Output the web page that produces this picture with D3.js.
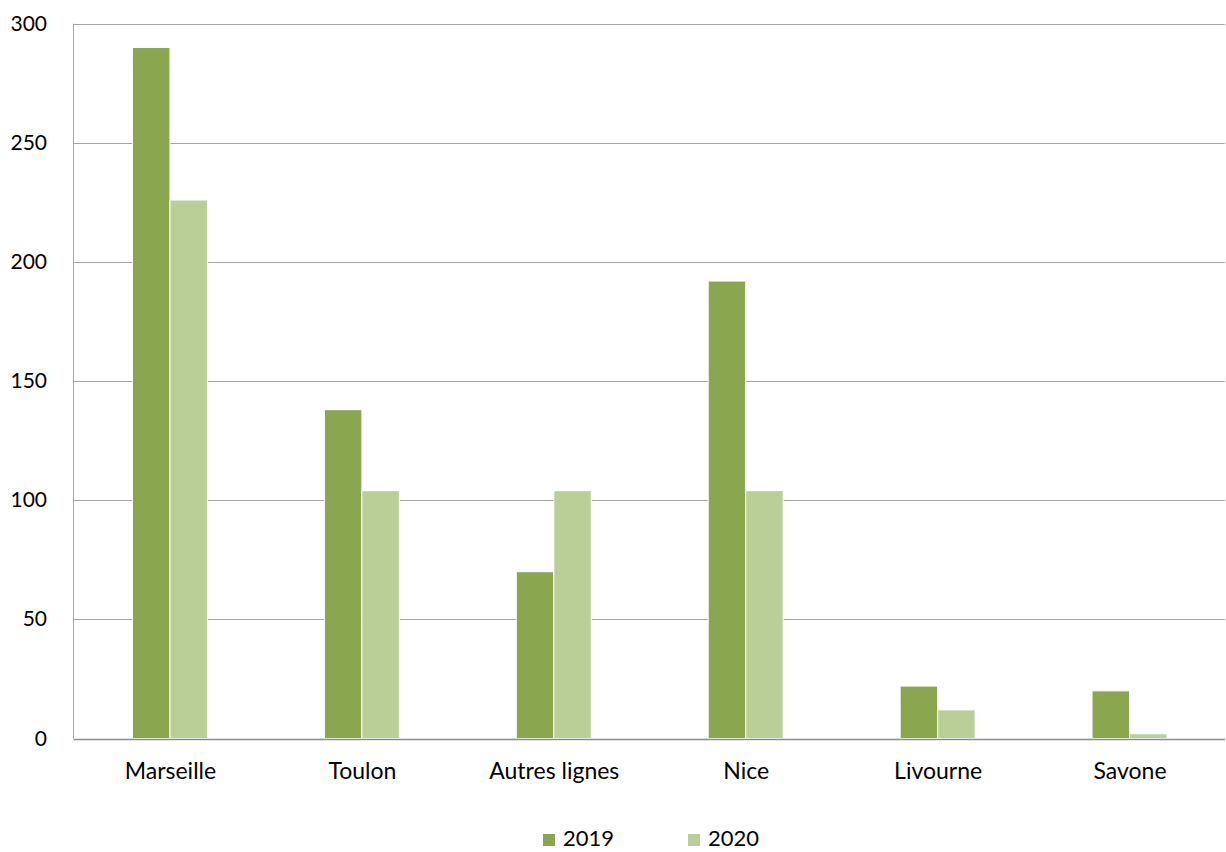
<!DOCTYPE html>
<html><head><meta charset="utf-8">
<script src="https://cdn.jsdelivr.net/npm/d3@7"></script>
<style>body{margin:0;background:#fff}svg{display:block}text{font-family:Lato,"Open Sans",sans-serif;fill:#000}</style>
</head><body><svg id="c" width="1226" height="852"></svg>
<script>
const categories = ["Marseille","Toulon","Autres lignes","Nice","Livourne","Savone"];
const series = ["2019","2020"];
const values2019 = [290,138,70,192,22,20];
const values2020 = [226,104,104,104,12,2];
const yTicks = [0,50,100,150,200,250,300];
const colors = ["#8AA64F","#BACF97"];

const svg = d3.select("#c");
const m = {left:73.5, right:1225, top:23.7, bottom:738.5};
const x = d3.scaleBand().domain(categories).range([m.left,m.right]);
const y = d3.scaleLinear().domain([0,300]).range([m.bottom,m.top]);
const bw = 37.5;
const xs = d3.scaleBand().domain(series).range([-bw+0.5, bw+0.5]);

// gridlines
svg.append("g").selectAll("line").data(yTicks.filter(d=>d>0)).join("line")
  .attr("x1",m.left).attr("x2",m.right).attr("y1",d=>Math.round(y(d))+0.5).attr("y2",d=>Math.round(y(d))+0.5)
  .attr("stroke","#A6A6A6").attr("stroke-width",1);
// left axis
svg.append("line").attr("x1",m.left).attr("x2",m.left).attr("y1",m.top).attr("y2",m.bottom).attr("stroke","#A6A6A6");

const data = categories.map((c,i)=>({c, v:[values2019[i],values2020[i]]}));
const g = svg.append("g").selectAll("g").data(data).join("g")
  .attr("transform",d=>`translate(${x(d.c)+x.bandwidth()/2},0)`);
g.selectAll("rect").data(d=>d.v.map((v,j)=>({v,s:series[j],j}))).join("rect")
  .attr("x",d=>xs(d.s)).attr("width",xs.bandwidth())
  .attr("y",d=>y(d.v)).attr("height",d=>y(0)-y(d.v))
  .attr("fill",d=>colors[d.j]).attr("stroke","#fff").attr("stroke-width",1);

// baseline
svg.append("line").attr("x1",m.left).attr("x2",m.right).attr("y1",Math.round(y(0))+0.5).attr("y2",Math.round(y(0))+0.5).attr("stroke","#8C8C8C").attr("stroke-width",1.5);

// y labels
svg.append("g").selectAll("text").data(yTicks).join("text")
  .attr("x",47).attr("y",d=>y(d)+7).attr("text-anchor","end").attr("font-size",21).text(d=>d);
// x labels
svg.append("g").selectAll("text").data(categories).join("text")
  .attr("x",d=>x(d)+x.bandwidth()/2+1).attr("y",779).attr("text-anchor","middle").attr("font-size",23).text(d=>d);

// legend
const leg = svg.append("g");
const lx = [543,688];
series.forEach((s,i)=>{
  leg.append("rect").attr("x",lx[i]).attr("y",834).attr("width",12).attr("height",12).attr("fill",colors[i]);
  leg.append("text").attr("x",lx[i]+20).attr("y",846).attr("font-size",22).text(s);
});
</script></body></html>
